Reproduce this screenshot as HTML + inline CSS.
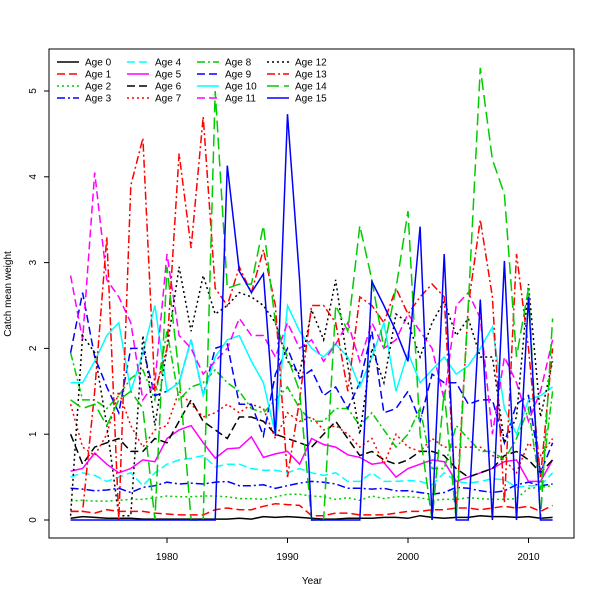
<!DOCTYPE html>
<html><head><meta charset="utf-8"><style>
html,body{margin:0;padding:0;background:#fff;}
svg text{font-family:"Liberation Sans","DejaVu Sans",sans-serif;font-size:10px;fill:#000;}
</style></head><body>
<svg id="chart" width="600" height="600" xmlns="http://www.w3.org/2000/svg"></svg>
<script>
const years = [];
for (let y = 1972; y <= 2012; y++) years.push(y);
const xTicks = [1980, 1990, 2000, 2010];
const yTicks = [0, 1, 2, 3, 4, 5];
const seriesNames = ["Age 0","Age 1","Age 2","Age 3","Age 4","Age 5","Age 6","Age 7","Age 8","Age 9","Age 10","Age 11","Age 12","Age 13","Age 14","Age 15"];
const age0 = [0.02,0.04,0.03,0.02,0.02,0.02,0.01,0.01,0.01,0.01,0.01,0.01,0.01,0.01,0.02,0.01,0.04,0.03,0.04,0.03,0.02,0.01,0.01,0.02,0.02,0.02,0.03,0.03,0.02,0.05,0.03,0.02,0.03,0.03,0.05,0.04,0.04,0.03,0.04,0.02,0.03];
const age1 = [0.1,0.1,0.08,0.12,0.1,0.1,0.1,0.08,0.07,0.06,0.06,0.06,0.12,0.14,0.12,0.12,0.16,0.19,0.18,0.17,0.05,0.05,0.08,0.08,0.06,0.06,0.06,0.08,0.1,0.1,0.12,0.12,0.14,0.14,0.12,0.14,0.16,0.14,0.16,0.1,0.17];
const age2 = [0.22,0.23,0.22,0.22,0.23,0.24,0.24,0.26,0.28,0.27,0.27,0.28,0.28,0.27,0.25,0.25,0.24,0.27,0.3,0.3,0.28,0.27,0.24,0.26,0.23,0.28,0.25,0.27,0.27,0.26,0.23,0.24,0.24,0.26,0.25,0.24,0.24,0.25,0.37,0.38,0.4];
const age3 = [0.37,0.36,0.34,0.35,0.37,0.32,0.38,0.4,0.44,0.42,0.43,0.42,0.44,0.45,0.4,0.4,0.41,0.37,0.4,0.43,0.45,0.44,0.42,0.37,0.37,0.36,0.37,0.34,0.34,0.32,0.3,0.32,0.38,0.37,0.34,0.32,0.34,0.41,0.44,0.4,0.42];
const age4 = [0.5,0.55,0.52,0.45,0.5,0.55,0.4,0.55,0.65,0.7,0.72,0.75,0.62,0.65,0.65,0.6,0.58,0.58,0.55,0.6,0.55,0.52,0.55,0.45,0.45,0.55,0.45,0.45,0.46,0.45,0.41,0.55,0.45,0.43,0.45,0.48,0.47,0.38,0.4,0.4,0.55];
const age5 = [0.57,0.6,0.78,0.65,0.55,0.6,0.7,0.68,0.95,1.05,1.1,0.9,0.72,0.83,0.84,0.97,0.73,0.77,0.8,0.65,0.95,0.88,0.85,0.76,0.73,0.65,0.67,0.5,0.6,0.65,0.7,0.68,0.45,0.5,0.55,0.6,0.68,0.7,0.45,0.45,0.7];
const age6 = [1.0,0.65,0.85,0.9,0.95,0.8,0.8,0.95,0.9,1.15,1.4,1.15,1.05,0.95,1.2,1.2,1.15,1.0,0.95,0.9,0.85,1.0,1.15,0.95,0.75,0.8,0.7,0.65,0.7,0.8,0.8,0.75,0.6,0.5,0.55,0.6,0.75,0.8,0.7,0.55,0.7];
const age7 = [1.35,0.85,0.75,1.0,1.5,1.1,0.85,1.05,1.1,1.5,1.35,1.2,1.25,1.35,1.25,1.35,1.3,0.95,1.25,1.15,1.2,1.05,1.1,1.0,0.85,0.95,0.65,1.0,0.85,0.8,0.95,0.85,0.85,0.85,0.85,0.75,0.7,0.55,0.9,0.75,0.95];
const age8 = [1.95,1.4,1.4,1.3,1.45,1.65,1.75,1.4,2.2,1.4,1.55,1.6,1.75,1.6,1.5,1.3,1.25,1.4,1.55,1.3,1.15,1.15,1.3,1.3,1.1,1.25,1.05,0.85,1.0,1.3,0.6,0.6,1.1,0.95,0.8,0.8,0.7,0.95,1.3,0.35,1.5];
const age9 = [1.95,2.65,1.9,1.55,1.25,2.0,2.0,1.45,1.5,1.6,2.1,1.45,2.0,2.05,1.35,1.35,0.98,1.7,2.0,1.65,1.75,1.45,1.55,1.3,1.6,2.2,1.25,1.3,1.5,1.15,1.7,1.6,1.6,1.35,1.4,1.4,0.9,1.35,1.45,0.55,0.9];
const age10 = [1.6,1.6,1.85,2.15,2.3,1.5,1.95,2.5,1.5,1.6,2.1,1.45,1.9,2.1,2.15,1.85,1.6,1.0,2.5,2.2,2.0,1.9,2.05,1.9,1.55,1.9,2.3,1.5,1.95,1.6,1.75,1.9,1.7,1.8,2.0,2.25,1.3,1.0,1.4,1.45,1.55];
const age11 = [2.85,2.1,4.05,2.8,2.6,2.3,1.4,1.6,3.1,2.15,2.0,1.7,1.85,2.0,2.35,2.15,2.15,1.9,2.3,2.0,2.1,1.85,2.05,2.3,1.85,2.3,2.0,2.1,2.4,2.2,2.0,1.4,2.5,2.65,2.35,1.0,1.9,1.6,1.15,1.5,2.1];
const age12 = [0.05,2.15,1.95,1.1,0.05,0.05,2.15,1.1,2.0,2.95,2.2,2.85,2.4,2.5,2.65,2.6,2.5,2.3,1.85,1.7,2.45,2.1,2.8,1.8,1.0,2.0,1.6,2.4,2.3,1.9,2.3,2.55,2.15,2.35,1.9,1.9,0.9,1.2,2.75,1.2,1.85];
const age13 = [0.1,0.1,1.5,3.3,0.0,3.9,4.45,1.5,2.0,4.27,3.17,4.7,2.7,2.5,2.95,2.65,3.15,2.5,0.5,1.4,2.5,2.5,2.3,1.5,2.6,2.5,2.3,2.7,2.4,2.6,2.75,2.6,0.1,2.5,3.5,2.6,0.2,3.1,2.0,0.5,2.0];
const age14 = [1.4,1.3,1.35,1.1,1.4,1.5,1.3,0.0,2.95,1.7,0.0,0.0,5.0,2.7,2.75,2.75,3.43,2.3,1.9,1.5,0.0,0.0,2.5,2.2,3.43,2.8,2.0,2.7,3.6,1.0,0.0,1.5,0.0,2.5,5.27,4.2,3.8,1.9,2.7,0.0,2.35];
const age15 = [0,0,0,0,0,0,0,0,0,0,0,0,0,4.13,2.9,2.65,2.87,0.98,4.73,2.8,0,0,0,0,0,2.78,2.5,2.2,1.85,3.42,0,3.1,0,0,2.57,0,3.02,0,2.6,0,0];
const allSeries = [age0,age1,age2,age3,age4,age5,age6,age7,age8,age9,age10,age11,age12,age13,age14,age15];
const colors = ["#000","#f00","#0c0","#00f","#0ff","#f0f","#000","#f00","#0c0","#00f","#0ff","#f0f","#000","#f00","#0c0","#00f"];
const dashes = ["","8,4","2,3","8,3,2,3","8,4","","8,4","2,3","8,3,2,3","8,4","","8,4","2,3","8,3,2,3","12,5",""];

const X0 = 49, X1 = 574, Y0 = 49, Y1 = 538;
function xs(yr){ return 167 + (yr - 1980) * 12.05; }
function ys(v){ return 520 - v * 85.8; }

const svg = document.getElementById('chart');
const NS = 'http://www.w3.org/2000/svg';
function mk(tag, attrs){ const e = document.createElementNS(NS, tag); for (const k in attrs) e.setAttribute(k, attrs[k]); svg.appendChild(e); return e; }

const frame = mk('rect', {x:X0, y:Y0, width:X1-X0, height:Y1-Y0, fill:'none', stroke:'#000', 'stroke-width':1});



xTicks.forEach(t => {
  const l = mk('line', {x1:xs(t), x2:xs(t), y1:Y1, y2:Y1+5, stroke:'#000'});
  
  
  const tx = mk('text', {x:xs(t), y:Y1+22, 'text-anchor':'middle'});
  tx.textContent = t;
  
  
});
yTicks.forEach(t => {
  const l = mk('line', {x1:X0-5, x2:X0, y1:ys(t), y2:ys(t), stroke:'#000'});
  
  
  const tx = mk('text', {x:36, y:ys(t), 'text-anchor':'middle', transform:'rotate(-90 36 '+ys(t)+')'});
  tx.textContent = t;
  
  
});
const xt = mk('text', {x:312, y:584, 'text-anchor':'middle'});
xt.textContent = 'Year';


const yt = mk('text', {x:11, y:294, 'text-anchor':'middle', transform:'rotate(-90 11 294)'});
yt.textContent = 'Catch mean weight';



allSeries.forEach((s, i) => {
  const pts = s.map((v, j) => xs(years[j]).toFixed(1) + ',' + ys(v).toFixed(1)).join(' ');
  const p = mk('polyline', {points:pts, fill:'none', stroke:colors[i], 'stroke-width':1.5, 'stroke-dasharray':dashes[i]});
  
  
});

seriesNames.forEach((n, i) => {
  const col = Math.floor(i / 4), row = i % 4;
  const lx = 57 + col * 70, ly = 62 + row * 12;
  const l = mk('line', {x1:lx, x2:lx+22, y1:ly, y2:ly, stroke:colors[i], 'stroke-width':1.5, 'stroke-dasharray':dashes[i]});
  
  
  const tx = mk('text', {x:lx+28, y:ly+3.5});
  tx.textContent = n;
  
  
});
</script>
</body></html>
